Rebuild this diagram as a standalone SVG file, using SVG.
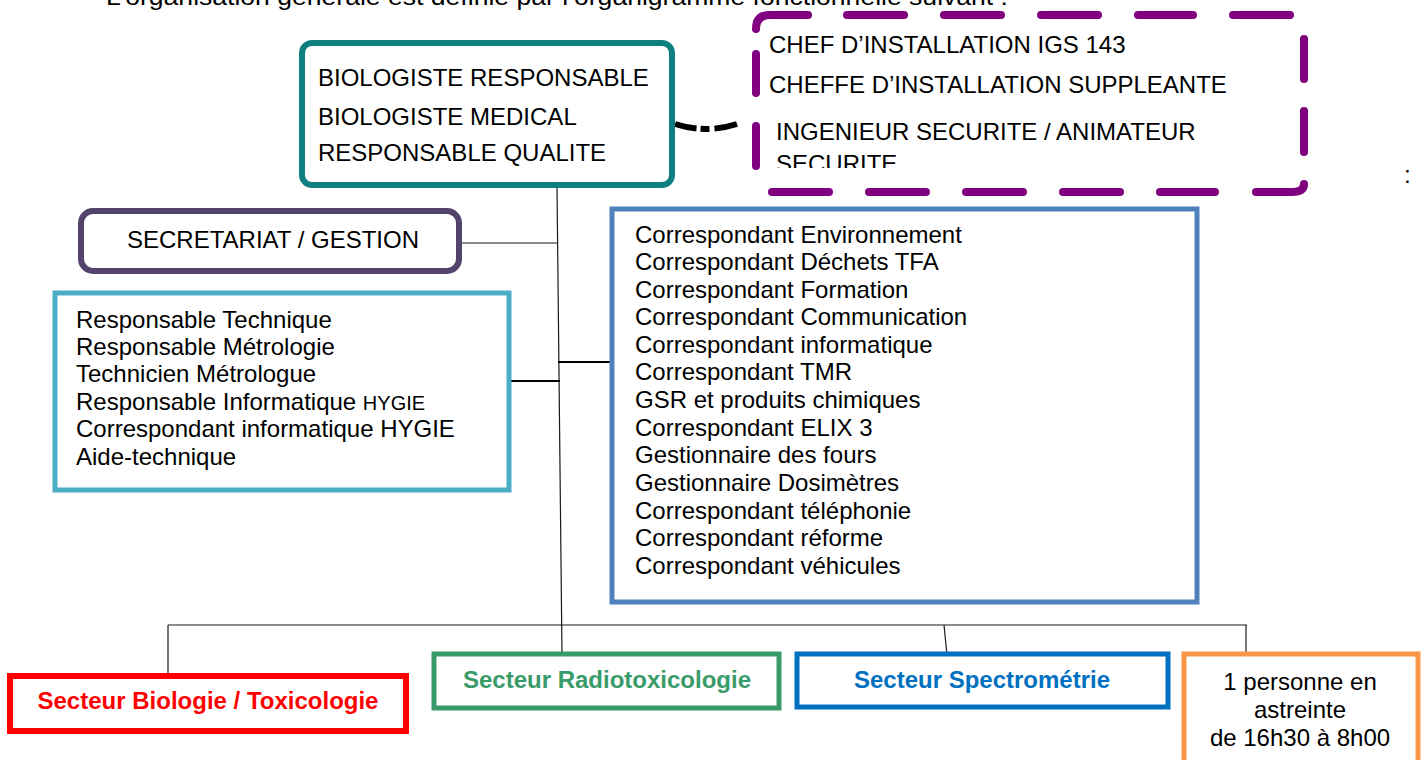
<svg xmlns="http://www.w3.org/2000/svg" width="1423" height="760" viewBox="0 0 1423 760">
<defs>
<style>
text{font-family:"Liberation Sans",Arial,sans-serif;font-size:24px;fill:#000}
.b{font-weight:bold}
.c{text-anchor:middle}
.box{fill:#fff}
.ln{fill:none;stroke:#1a1a1a;stroke-width:1.2}
.ln2{fill:none;stroke:#000;stroke-width:2}
.dash{fill:none;stroke:#800080;stroke-width:8;stroke-linecap:round}
</style>
<clipPath id="clipSec"><rect x="740" y="0" width="600" height="168"/></clipPath>
</defs>
<rect width="1423" height="760" fill="#fff"/>
<text x="106" y="5" font-size="26.5" textLength="902" lengthAdjust="spacingAndGlyphs">L’organisation générale est définie par l’organigramme fonctionnelle suivant :</text>
<text x="1404" y="183">:</text>

<g id="connectors">
<path class="ln" d="M557,186 L562,655"/>
<path class="ln" d="M459,243 L558,243"/>
<path class="ln2" d="M510,381 L560,381"/>
<path class="ln2" d="M558,362 L612,362"/>
<path class="ln" d="M168,625 L1247,625"/>
<path class="ln" d="M168,625 L168,675"/>
<path class="ln" d="M944,625 L947,655"/>
<path class="ln" d="M1246,625 L1246,655"/>
<path d="M675,124 Q706,134 737,124" fill="none" stroke="#000" stroke-width="6" stroke-dasharray="22 4 9 5 30"/>
</g>

<g id="direction">
<rect class="box" x="302" y="43" width="370" height="142" rx="10" stroke="#0F8080" stroke-width="6"/>
<text x="318" y="86">BIOLOGISTE RESPONSABLE</text>
<text x="318" y="125">BIOLOGISTE MEDICAL</text>
<text x="318" y="161">RESPONSABLE QUALITE</text>
</g>

<g id="installation">
<path class="dash" d="M756,29 Q756,15 770,15 L808,15 M847,15 L904,15 M944,15 L1001,15 M1041,15 L1098,15 M1138,15 L1193,15 M1233,15 L1290,15 M1304,39 L1304,79 M1304,111 L1304,152 M1304,184 Q1304,192 1292,192 L1256,192 M1215,192 L1160,192 M1120,192 L1063,192 M1023,192 L966,192 M926,192 L869,192 M829,192 L772,192 M756,166 L756,126 M756,93 L756,54"/>
<text x="769" y="53">CHEF D’INSTALLATION IGS 143</text>
<text x="769" y="93">CHEFFE D’INSTALLATION SUPPLEANTE</text>
<text x="776" y="140">INGENIEUR SECURITE / ANIMATEUR</text>
<text x="776" y="172" clip-path="url(#clipSec)">SECURITE</text>
</g>

<g id="secretariat">
<rect class="box" x="81" y="211" width="378" height="60" rx="12" stroke="#54436C" stroke-width="6"/>
<text class="c" x="273" y="248">SECRETARIAT / GESTION</text>
</g>

<g id="technique">
<rect class="box" x="55" y="293" width="454" height="197" stroke="#4BACC6" stroke-width="5"/>
<text x="76" y="328">Responsable Technique</text>
<text x="76" y="355">Responsable Métrologie</text>
<text x="76" y="382">Technicien Métrologue</text>
<text x="76" y="410">Responsable Informatique <tspan font-size="20">HYGIE</tspan></text>
<text x="76" y="437">Correspondant informatique HYGIE</text>
<text x="76" y="465">Aide-technique</text>
</g>

<g id="correspondants">
<rect class="box" x="612" y="209" width="585" height="393" stroke="#4F81BD" stroke-width="5"/>
<text x="635" y="243">Correspondant Environnement</text>
<text x="635" y="270">Correspondant Déchets TFA</text>
<text x="635" y="298">Correspondant Formation</text>
<text x="635" y="325">Correspondant Communication</text>
<text x="635" y="353">Correspondant informatique</text>
<text x="635" y="380">Correspondant TMR</text>
<text x="635" y="408">GSR et produits chimiques</text>
<text x="635" y="436">Correspondant ELIX 3</text>
<text x="635" y="463">Gestionnaire des fours</text>
<text x="635" y="491">Gestionnaire Dosimètres</text>
<text x="635" y="519">Correspondant téléphonie</text>
<text x="635" y="546">Correspondant réforme</text>
<text x="635" y="574">Correspondant véhicules</text>
</g>

<g id="biologie">
<rect class="box" x="10" y="676" width="396" height="55" stroke="#FF0000" stroke-width="6"/>
<text class="b c" x="208" y="709" style="fill:#FF0000">Secteur Biologie / Toxicologie</text>
</g>

<g id="radiotox">
<rect class="box" x="434" y="654" width="345" height="54" stroke="#3A9B6A" stroke-width="5"/>
<text class="b c" x="607" y="688" style="fill:#3A9B6A">Secteur Radiotoxicologie</text>
</g>

<g id="spectro">
<rect class="box" x="797" y="654" width="371" height="53" stroke="#0070C0" stroke-width="5"/>
<text class="b c" x="982" y="688" style="fill:#0070C0">Secteur Spectrométrie</text>
</g>

<g id="astreinte">
<rect class="box" x="1184" y="654" width="234" height="120" stroke="#F79646" stroke-width="5"/>
<text class="c" x="1300" y="690">1 personne en</text>
<text class="c" x="1300" y="718">astreinte</text>
<text class="c" x="1300" y="746">de 16h30 à 8h00</text>
</g>
</svg>
